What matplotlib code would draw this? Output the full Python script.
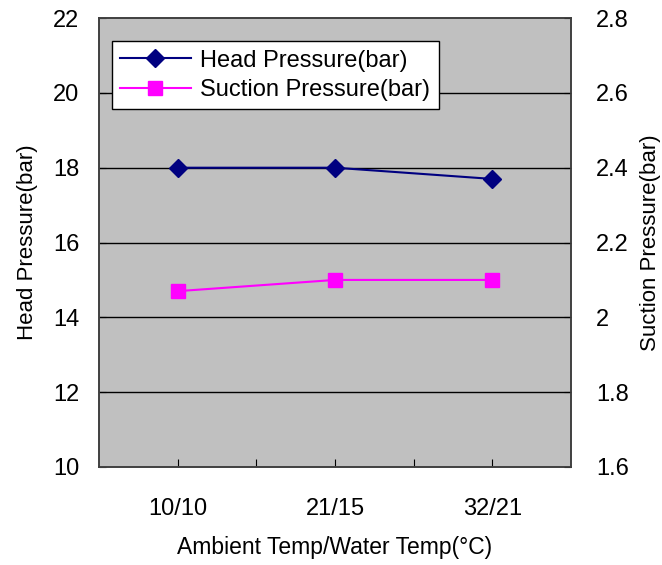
import matplotlib.pyplot as plt

plt.rcParams['font.family'] = ['Liberation Sans', 'DejaVu Sans']

# Test conditions and measured pressures
conditions = ["10/10", "21/15", "32/21"]
head_pressure = [18.0, 18.0, 17.7]
suction_pressure = [2.07, 2.10, 2.10]

fig = plt.figure(figsize=(6.62, 5.65), dpi=100)
ax = fig.add_axes([0.1495, 0.1735, 0.713, 0.7945])
ax.set_facecolor("#c0c0c0")
ax2 = ax.twinx()

x = list(range(len(conditions)))
l1, = ax.plot(x, head_pressure, color="#000080", marker="D", markersize=9,
              linewidth=1.5, label="Head Pressure(bar)", zorder=3)
l2, = ax2.plot(x, suction_pressure, color="#ff00ff", marker="s", markersize=10,
               linewidth=1.5, label="Suction Pressure(bar)", zorder=3)

ax.set_xlim(-0.5, 2.5)
ax.set_ylim(10, 22)
ax.set_yticks(range(10, 23, 2))
ax2.set_ylim(1.6, 2.8)
ax2.set_yticks([1.6, 1.8, 2.0, 2.2, 2.4, 2.6, 2.8])
ax2.set_yticklabels(["1.6", "1.8", "2", "2.2", "2.4", "2.6", "2.8"])

ax.set_xticks([0, 0.5, 1, 1.5, 2])
ax.set_xticklabels(["10/10", "", "21/15", "", "32/21"])

for yv in range(12, 22, 2):
    ax.axhline(yv, color="black", linewidth=1, zorder=1)

ax.tick_params(axis="x", direction="in", length=6, pad=22, labelsize=17)
ax.tick_params(axis="y", direction="in", length=5, pad=14, labelsize=17)
ax2.tick_params(axis="y", direction="in", length=5, pad=18, labelsize=17)

for a in (ax, ax2):
    for s in a.spines.values():
        s.set_color("#404040")
        s.set_linewidth(1.2)

ax.set_xlabel("Ambient Temp/Water Temp(°C)", fontsize=16.5, labelpad=12)
ax.set_ylabel("Head Pressure(bar)", fontsize=16, labelpad=11)
ax2.set_ylabel("Suction Pressure(bar)", fontsize=16, labelpad=8)

leg = ax2.legend(handles=[l1, l2], loc="upper left", bbox_to_anchor=(0.027, 0.948),
                 fontsize=17, frameon=True, fancybox=False, borderpad=0.35,
                 handlelength=3.0, handletextpad=0.4, labelspacing=0.3,
                 borderaxespad=0)
leg.get_frame().set_edgecolor("black")
leg.get_frame().set_linewidth(1)
leg.get_frame().set_facecolor("white")
leg.get_frame().set_alpha(1)

fig.savefig("out.png", dpi=100)
